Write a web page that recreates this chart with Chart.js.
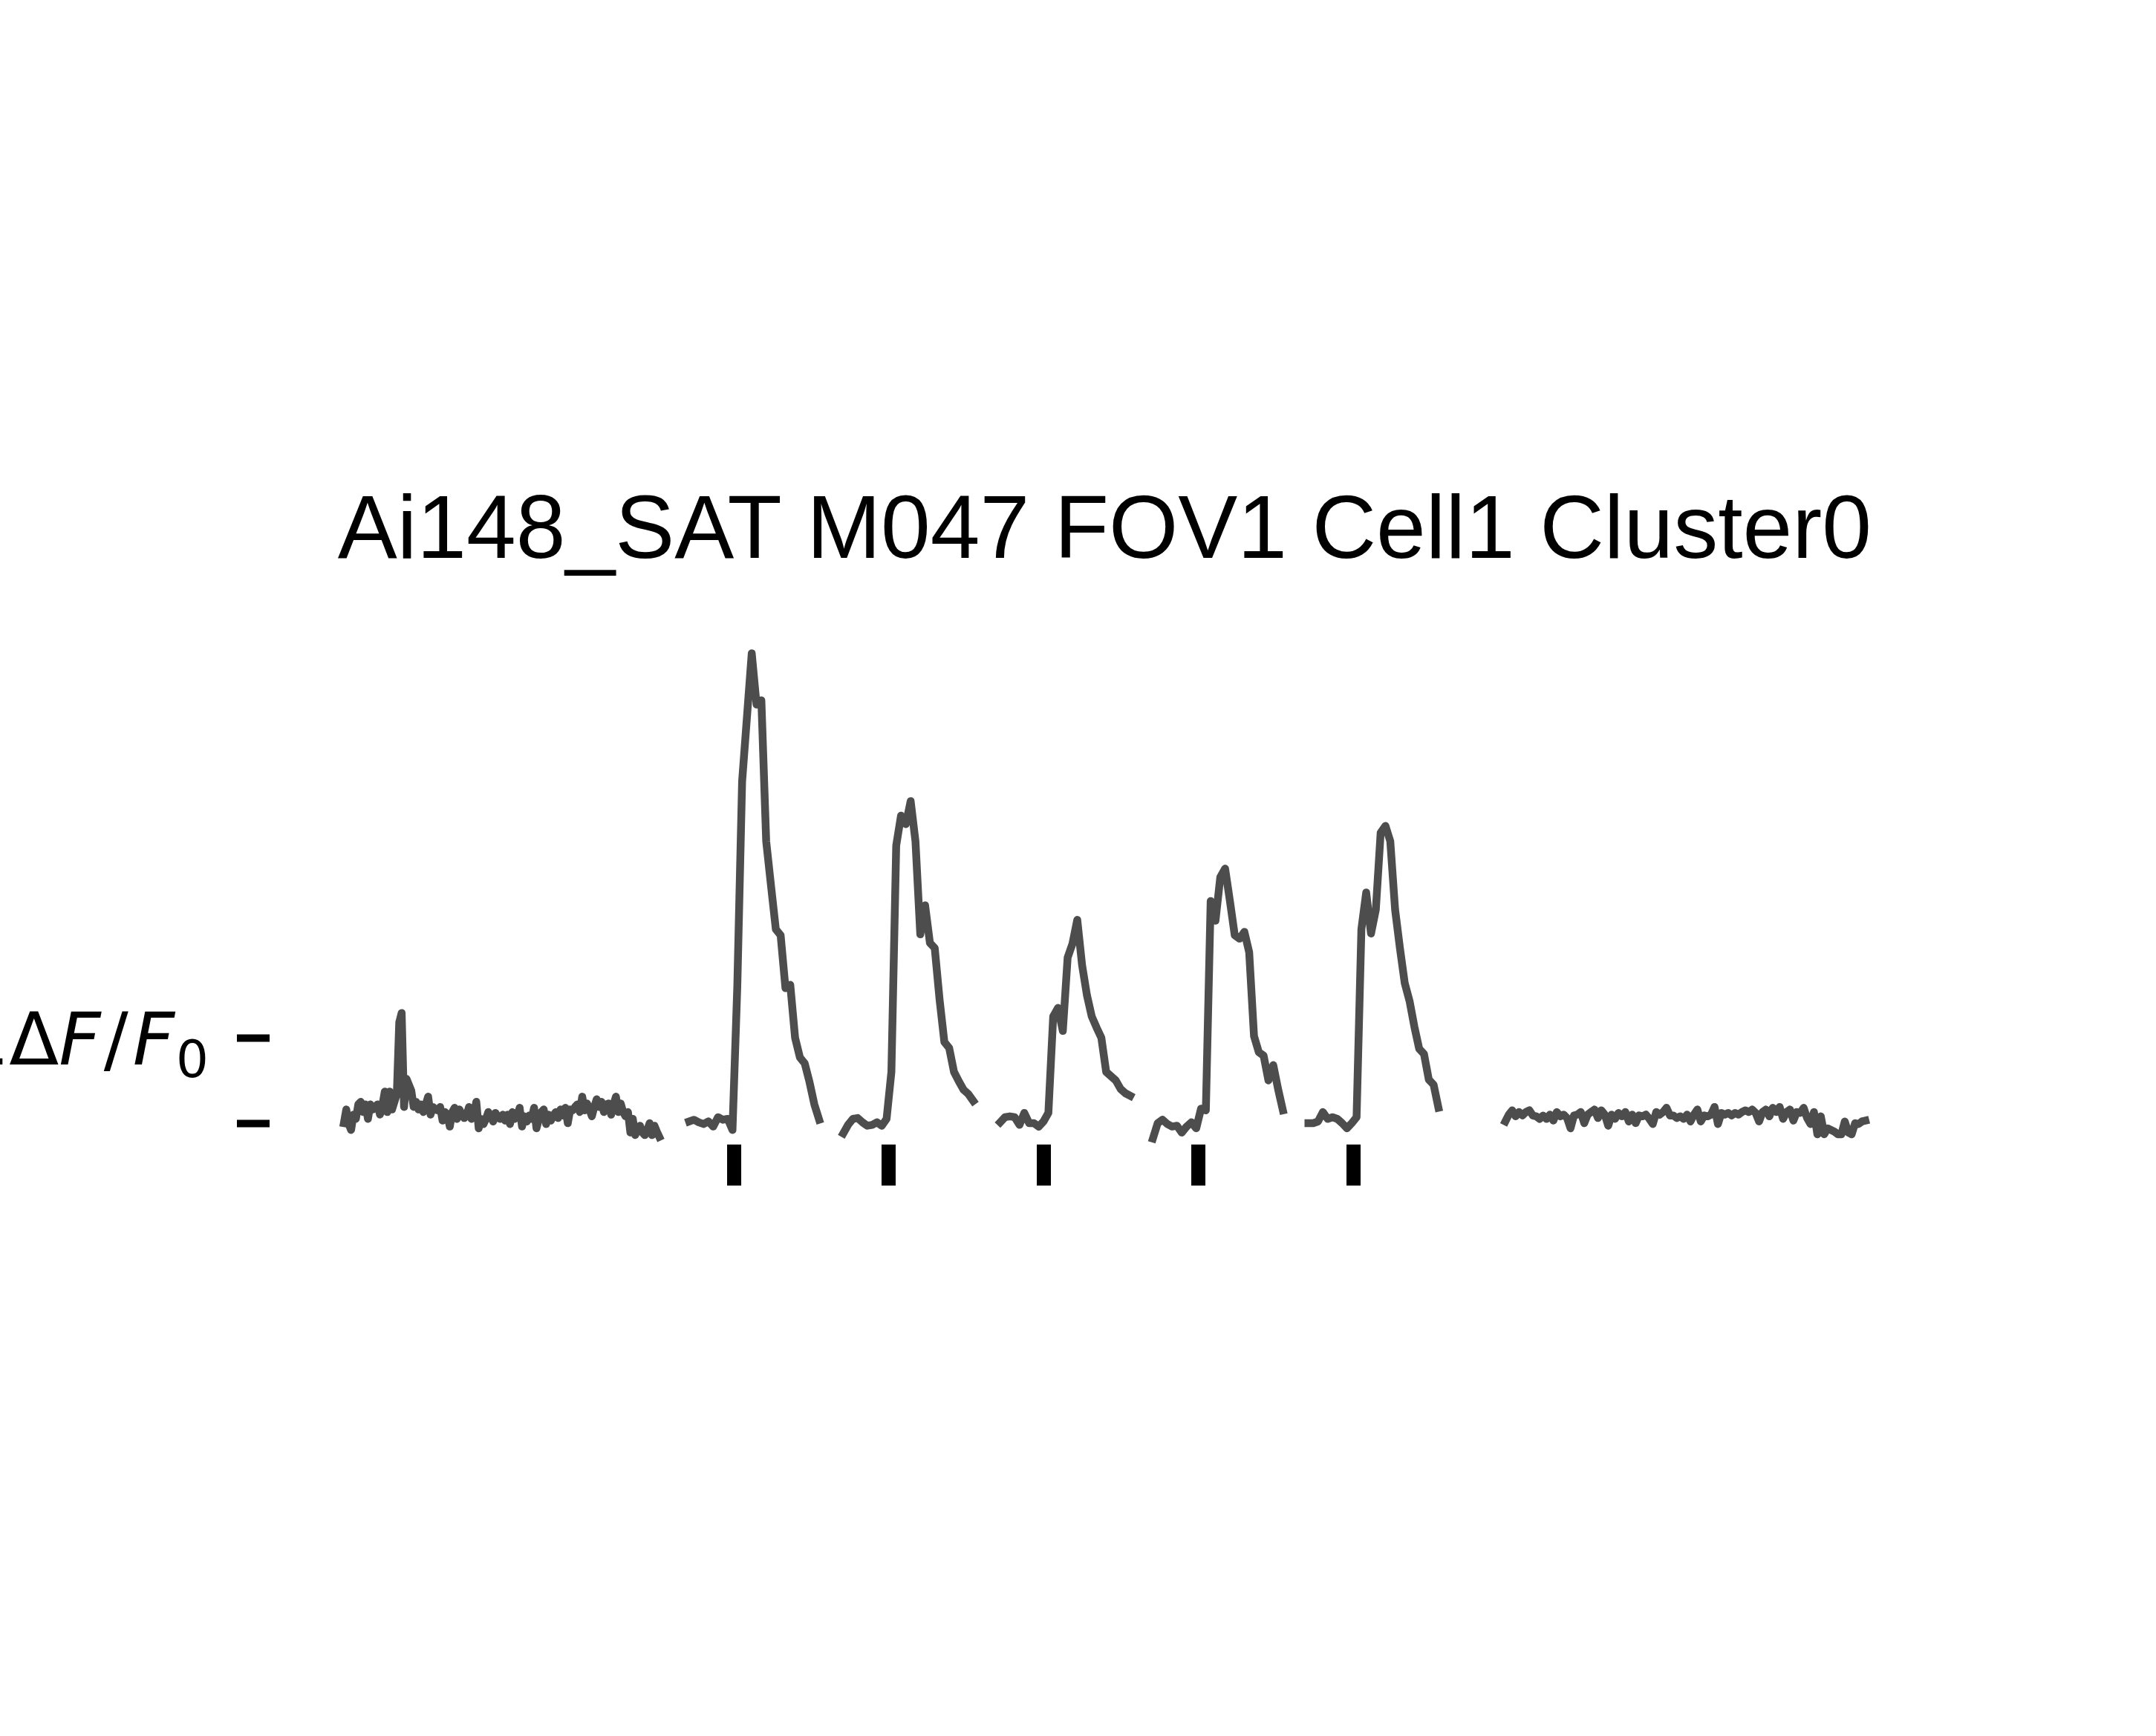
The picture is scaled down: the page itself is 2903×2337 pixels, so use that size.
<!DOCTYPE html>
<html>
<head>
<meta charset="utf-8">
<title>Ai148_SAT M047 FOV1 Cell1 Cluster0</title>
<script src="https://cdn.jsdelivr.net/npm/chart.js@4.4.1/dist/chart.umd.min.js"></script>
<style>
  html, body { margin: 0; padding: 0; background: #fff; overflow: hidden; }
  canvas { display: block; }
</style>
</head>
<body>
<canvas id="myChart" width="2903" height="2337"></canvas>
<script>
var chartTitle = 'Ai148_SAT M047 FOV1 Cell1 Cluster0';

// spontaneous activity before the stimuli, dF/F0, one value every preDt s
var preStart = 0;
var preDt = 0.05;
var preValues = [
    0.00, 0.16, -0.01, -0.08, 0.10, 0.05, 0.22, 0.25, 0.13, 0.22,
    0.05, 0.22, 0.16, 0.19, 0.22, 0.10, 0.21, 0.37, 0.13, 0.37,
    0.16, 0.25, 0.34, 1.18, 1.29, 0.19, 0.52, 0.45, 0.38, 0.19,
    0.25, 0.16, 0.22, 0.13, 0.22, 0.31, 0.10, 0.19, 0.16, 0.15,
    0.19, 0.03, 0.13, 0.10, -0.04, 0.13, 0.18, 0.05, 0.16, 0.10,
    0.06, 0.10, 0.19, 0.05, 0.10, 0.25, -0.06, 0.05, -0.01, 0.05,
    0.13, 0.08, 0.02, 0.12, 0.06, 0.05, 0.10, 0.03, 0.10, -0.01,
    0.13, 0.05, 0.08, 0.18, -0.04, 0.08, 0.02, 0.09, 0.05, 0.18,
    -0.06, 0.05, 0.13, 0.16, -0.01, 0.10, 0.03, 0.09, 0.13, 0.06,
    0.16, 0.09, 0.18, 0.00, 0.16, 0.15, 0.19, 0.22, 0.13, 0.31,
    0.15, 0.23, 0.16, 0.08, 0.19, 0.28, 0.19, 0.25, 0.13, 0.22,
    0.23, 0.10, 0.22, 0.31, 0.13, 0.23, 0.13, 0.08, 0.13, -0.11,
    0.05, -0.14, -0.07, -0.03, -0.11, -0.14, -0.08, 0.00, -0.14, -0.03,
    -0.10, -0.16
];

// evoked trials, one value every trialDt s
var trialStarts = [7.17, 10.37, 13.63, 16.8, 20.03];
var trialDt = 0.1;
var trial1 = [0.02, 0.04, 0.01, -0.01, 0.02, -0.04, 0.07, 0.04, 0.05, -0.08,
    1.6, 4.0, 4.75, 5.5, 4.9, 4.95, 3.3, 2.78, 2.27, 2.2,
    1.58, 1.62, 1.0, 0.77, 0.70, 0.48, 0.22, 0.04];
var trial2 = [-0.12, -0.02, 0.05, 0.06, 0.01, -0.03, -0.02, 0.01, -0.03, 0.05,
    0.6, 3.25, 3.6, 3.5, 3.77, 3.3, 2.21, 2.55, 2.11, 2.05,
    1.45, 0.95, 0.88, 0.6, 0.49, 0.39, 0.34, 0.26];
var trial3 = [0.01, 0.07, 0.08, 0.07, -0.02, 0.12, 0.0, 0.0, -0.04, 0.02,
    0.12, 1.25, 1.35, 1.08, 1.94, 2.1, 2.38, 1.85, 1.5, 1.25,
    1.12, 1.0, 0.6, 0.55, 0.5, 0.4, 0.35, 0.32];
var trial4 = [-0.18, 0.0, 0.04, -0.01, -0.04, -0.03, -0.11, -0.04, 0.01, -0.06,
    0.17, 0.15, 2.6, 2.37, 2.88, 2.98, 2.6, 2.2, 2.16, 2.24,
    2.0, 1.02, 0.83, 0.79, 0.5, 0.68, 0.4, 0.15];
var trial5 = [0.0, 0.0, 0.02, 0.13, 0.05, 0.07, 0.05, 0.0, -0.06, 0.0,
    0.07, 2.27, 2.7, 2.22, 2.5, 3.4, 3.48, 3.3, 2.5, 2.05,
    1.64, 1.43, 1.13, 0.87, 0.81, 0.51, 0.45, 0.18];

// spontaneous activity after the stimuli
var postStart = 24.12;
var postDt = 0.0712;
var postValues = [
    0.02, 0.10, 0.15, 0.08, 0.13, 0.09, 0.13, 0.15, 0.09, 0.08,
    0.05, 0.09, 0.05, 0.10, 0.03, 0.13, 0.08, 0.10, 0.06, -0.06,
    0.09, 0.10, 0.13, 0.00, 0.10, 0.13, 0.16, 0.06, 0.15, 0.10,
    -0.03, 0.10, 0.05, 0.12, 0.08, 0.13, 0.02, 0.10, 0.00, 0.09,
    0.08, 0.10, 0.05, -0.01, 0.13, 0.10, 0.13, 0.18, 0.09, 0.09,
    0.06, 0.08, 0.05, 0.10, 0.02, 0.10, 0.16, 0.02, 0.09, 0.08,
    0.10, 0.19, -0.01, 0.12, 0.10, 0.12, 0.09, 0.12, 0.10, 0.13,
    0.15, 0.13, 0.16, 0.12, 0.02, 0.13, 0.16, 0.08, 0.18, 0.13,
    0.19, 0.05, 0.13, 0.16, 0.03, 0.13, 0.12, 0.18, 0.06, -0.01,
    0.13, -0.13, 0.08, -0.13, -0.06, -0.08, -0.10, -0.13, -0.13, 0.02,
    -0.11, -0.13, 0.00, -0.01, 0.02, 0.03
];

// stimulus onsets (s)
var stimTimes = [8.105, 11.312, 14.536, 17.744, 20.967];

// scale bar ticks (dF/F0)
var scaleTicks = [0, 1];

function toPoints(start, dt, values) {
    return values.map(function(v, i) {
        return { x: start + i * dt, y: v };
    });
}

var traceColor = '#4d4d4d';
var segments = [toPoints(preStart, preDt, preValues)];
[trial1, trial2, trial3, trial4, trial5].forEach(function(vals, k) {
    segments.push(toPoints(trialStarts[k], trialDt, vals));
});
segments.push(toPoints(postStart, postDt, postValues));

var datasets = segments.map(function(pts) {
    return {
        data: pts,
        borderColor: traceColor,
        borderWidth: 10.5,
        borderJoinStyle: 'round',
        borderCapStyle: 'square',
        pointRadius: 0,
        tension: 0,
        fill: false
    };
});

// stimulus markers under the traces
var stimY = [-0.25, -0.73];
var stimPoints = [];
stimTimes.forEach(function(t) {
    stimPoints.push({ x: t, y: stimY[0] }, { x: t, y: stimY[1] }, { x: t, y: null });
});
datasets.push({
    data: stimPoints,
    borderColor: '#000',
    borderWidth: 19,
    borderCapStyle: 'butt',
    pointRadius: 0,
    spanGaps: false,
    fill: false
});

var textPlugin = {
    id: 'textLabels',
    afterDraw: function(chart) {
        var ctx = chart.ctx;
        var xs = chart.scales.x, ys = chart.scales.y;
        ctx.save();
        ctx.fillStyle = '#000';
        ctx.textBaseline = 'alphabetic';

        // title centred over the traces
        var x0 = xs.getPixelForValue(preStart);
        var x1 = xs.getPixelForValue(postStart + (postValues.length - 1) * postDt);
        ctx.font = '120px "Liberation Sans", Arial, sans-serif';
        ctx.textAlign = 'center';
        ctx.fillText(chartTitle, (x0 + x1) / 2, 751);

        // scale bar label, 1 dF/F0
        var parts = [
            { text: '1', font: '98px "DejaVu Sans"', dy: 0, gap: 0 },
            { text: '\u0394', font: '98px "DejaVu Sans"', dy: 0, gap: 0 },
            { text: 'F', font: 'italic 98px "DejaVu Sans"', dy: 0, gap: 4 },
            { text: '/', font: '98px "DejaVu Sans"', dy: 0, gap: 6 },
            { text: 'F', font: 'italic 98px "DejaVu Sans"', dy: 0, gap: 2 },
            { text: '0', font: '69px "DejaVu Sans"', dy: 17, gap: 0 }
        ];
        var total = 0;
        parts.forEach(function(p) {
            ctx.font = p.font;
            p.w = ctx.measureText(p.text).width;
            total += p.w + p.gap;
        });
        var right = chart.chartArea.left - 44 - 38;
        var base = ys.getPixelForValue(1) + 36;
        var x = right - total;
        ctx.textAlign = 'left';
        parts.forEach(function(p) {
            ctx.font = p.font;
            ctx.fillText(p.text, x, base + p.dy);
            x += p.w + p.gap;
        });
        ctx.restore();
    }
};

var ctx = document.getElementById('myChart').getContext('2d');
var chart = new Chart(ctx, {
    type: 'line',
    data: { datasets: datasets },
    options: {
        responsive: false,
        animation: false,
        devicePixelRatio: 1,
        layout: { padding: 0 },
        plugins: {
            legend: { display: false },
            tooltip: { enabled: false }
        },
        scales: {
            x: {
                type: 'linear',
                display: false,
                min: -1.5423,
                max: 37.631
            },
            y: {
                type: 'linear',
                position: 'left',
                min: -7.174,
                max: 13.148,
                afterBuildTicks: function(axis) {
                    axis.ticks = scaleTicks.map(function(v) { return { value: v }; });
                },
                afterFit: function(axis) {
                    axis.width = 363;
                },
                border: { display: false },
                grid: {
                    drawOnChartArea: false,
                    drawTicks: true,
                    tickLength: 44,
                    tickWidth: 10,
                    tickColor: '#000'
                },
                ticks: { display: false }
            }
        }
    },
    plugins: [textPlugin]
});
</script>
</body>
</html>
